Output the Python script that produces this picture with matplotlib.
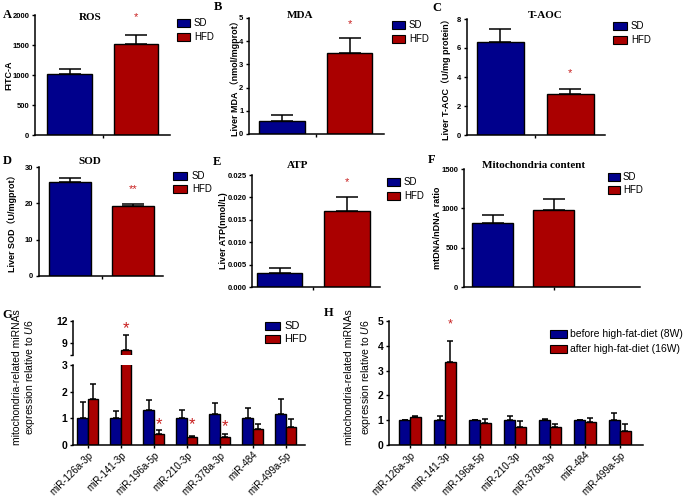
import numpy as np
import matplotlib.pyplot as plt

plt.rcParams['font.family'] = ['Liberation Sans', 'Noto Sans CJK SC']
plt.rcParams['mathtext.fontset'] = 'custom'
plt.rcParams['mathtext.it'] = 'Liberation Sans:italic'
plt.rcParams['mathtext.rm'] = 'Liberation Sans'

W, H = 685, 498
SD_C = '#00008c'
HFD_C = '#aa0000'
STAR_C = '#c81e1e'

groups = ['SD', 'HFD']
ros = [1010, 1520]
ros_err = [95, 140]
mda = [0.58, 3.5]
mda_err = [0.22, 0.62]
taoc = [6.4, 2.8]
taoc_err = [0.9, 0.4]
sod = [26.0, 19.4]
sod_err = [1.1, 0.4]
atp = [0.0031, 0.0169]
atp_err = [0.0011, 0.0033]
mito = [810, 975]
mito_err = [100, 140]

mirnas = ['miR-126a-3p', 'miR-141-3p', 'miR-196a-5p', 'miR-210-3p',
          'miR-378a-3p', 'miR-484', 'miR-499a-5p']
g_sd = [1.0, 1.0, 1.33, 1.0, 1.16, 1.0, 1.16]
g_sd_err = [0.6, 0.27, 0.36, 0.31, 0.43, 0.4, 0.57]
g_hfd = [1.71, 8.1, 0.4, 0.29, 0.31, 0.6, 0.66]
g_hfd_err = [0.58, 2.0, 0.16, 0.06, 0.1, 0.18, 0.33]

h_before = [1.0, 1.0, 1.0, 1.0, 1.0, 1.0, 1.0]
h_before_err = [0.02, 0.17, 0.02, 0.17, 0.03, 0.02, 0.3]
h_after = [1.12, 3.35, 0.87, 0.74, 0.72, 0.93, 0.57]
h_after_err = [0.05, 0.85, 0.18, 0.21, 0.13, 0.15, 0.28]
h_labels = ['before high-fat-diet (8W)', 'after high-fat-diet (16W)']

fig = plt.figure(figsize=(W / 100, H / 100), dpi=100)


def box(x0, x1, y0, y1):
    return [x0 / W, 1 - y1 / H, (x1 - x0) / W, (y1 - y0) / H]


def fx(x):
    return x / W


def fy(y):
    return 1 - y / H


def style(ax, bottom=True, ysize=5.5):
    for s in ['top', 'right']:
        ax.spines[s].set_visible(False)
    ax.spines['left'].set_linewidth(1.1)
    ax.spines['bottom'].set_linewidth(1.1)
    if not bottom:
        ax.spines['bottom'].set_visible(False)
    ax.tick_params(direction='out', length=2.5, width=1, pad=1.5)
    ax.tick_params(axis='y', labelsize=ysize)
    for lab in ax.get_yticklabels():
        lab.set_fontweight('bold')


def legend_px(px0, px1, tx, rows, labels, fs=7):
    for y, lab, c in zip(rows, labels, [SD_C, HFD_C]):
        fig.patches.append(plt.Rectangle((fx(px0), fy(y + 4)), (px1 - px0) / W, 8 / H,
                                         transform=fig.transFigure, facecolor=c,
                                         edgecolor='black', linewidth=0.8))
        fig.text(fx(tx), fy(y), lab, fontsize=fs, va='center', ha='left')


def two_bar(b, vals, errs, ylim, yticks, yfmt, xlim, tick_x, title, title_xy,
            ylabel, ylab_x, star, star_y, letter, letter_xy, leg):
    ax = fig.add_axes(box(*b))
    x = np.arange(2)
    ax.bar(x, vals, width=0.67, color=[SD_C, HFD_C], edgecolor='black', linewidth=1)
    ax.errorbar(x, vals, yerr=[[0, 0], errs], fmt='none', ecolor='black',
                elinewidth=1.1, capsize=8, capthick=1.1)
    ax.set_ylim(*ylim)
    ax.set_xlim(*xlim)
    ax.set_yticks(yticks)
    ax.set_yticklabels([yfmt.format(t) for t in yticks])
    ax.set_xticks([tick_x])
    ax.set_xticklabels([''])
    style(ax)
    fig.text(fx(title_xy[0]), fy(title_xy[1]), title, fontsize=8, fontweight='bold',
             family='Liberation Serif', ha='center', va='center')
    fig.text(fx(ylab_x), fy((b[2] + b[3]) / 2), ylabel, rotation=90, fontsize=6.5,
             fontweight='bold', ha='center', va='center')
    if star:
        ax.text(1, star_y, star, color=STAR_C, fontsize=8, ha='center', va='center')
    fig.text(fx(letter_xy[0]), fy(letter_xy[1]), letter, fontsize=9, fontweight='bold',
             family='Liberation Serif', ha='center', va='center')
    legend_px(leg[0], leg[1], leg[2], leg[3], groups)
    return ax


two_bar((35, 170, 15, 135), ros, ros_err, (0, 2000), [0, 500, 1000, 1500, 2000], '{:g}',
        (-0.52, 1.51), 0.5, 'ROS', (90, 18), 'FITC-A', 9, '*', 1960, 'A', (7, 15),
        (177, 190, 194, [23, 37]))
two_bar((249, 384, 18, 134), mda, mda_err, (0, 5), [0, 1, 2, 3, 4, 5], '{:g}',
        (-0.49, 1.51), 0.5, 'MDA', (300, 16), 'Liver MDA （nmol/mgprot）', 235, '*', 4.75,
        'B', (218, 7), (392, 405, 409, [25, 39]))
two_bar((467, 605, 19, 135), taoc, taoc_err, (0, 8), [0, 2, 4, 6, 8], '{:g}',
        (-0.48, 1.5), 0.5, 'T-AOC', (545, 15), 'Liver T-AOC（U/mg protein）', 446, '*', 4.3,
        'C', (437, 8), (613, 627, 631, [26, 40]))
two_bar((39, 163, 167, 276), sod, sod_err, (0, 30), [0, 10, 20, 30], '{:g}',
        (-0.5, 1.48), 0.5, 'SOD', (90, 161), 'Liver SOD（U/mgprot）', 12, '**', 24.0,
        'D', (7, 161), (173, 187, 192, [176, 189]))
two_bar((252, 380, 175, 287), atp, atp_err, (0, 0.025),
        [0, 0.005, 0.010, 0.015, 0.020, 0.025], '{:.3f}',
        (-0.41, 1.49), 0.5, 'ATP', (298, 166), 'Liver ATP(nmol/L)', 224, '*', 0.0235,
        'E', (217, 162), (387, 400, 404, [182, 196]))
two_bar((464, 640, 169, 287), mito, mito_err, (0, 1500), [0, 500, 1000, 1500], '{:g}',
        (-0.47, 2.42), 1.0, 'Mitochondria content', (534, 166), 'mtDNA/nDNA  ratio', 437,
        None, 0, 'F', (432, 160), (608, 620, 623, [177, 190]))


# panel G: segmented y axis
def mir_bars(ax, a, a_err, b_, b_err, w, cap):
    x = np.arange(len(mirnas))
    ax.bar(x - w / 2, a, width=w, color=SD_C, edgecolor='black', linewidth=1)
    ax.bar(x + w / 2, b_, width=w, color=HFD_C, edgecolor='black', linewidth=1)
    ax.errorbar(x - w / 2, a, yerr=[np.zeros(len(a)), a_err], fmt='none', ecolor='black',
                elinewidth=1.1, capsize=cap, capthick=1.1)
    ax.errorbar(x + w / 2, b_, yerr=[np.zeros(len(b_)), b_err], fmt='none', ecolor='black',
                elinewidth=1.1, capsize=cap, capthick=1.1)
    return x


def rotate_labels(ax):
    for lab in ax.get_xticklabels():
        lab.set_rotation(45)
        lab.set_ha('right')
        lab.set_rotation_mode('anchor')
        lab.set_fontsize(7)


gl = fig.add_axes(box(73, 305, 365, 445))
gu = fig.add_axes(box(73, 305, 321, 355))
for ax in (gl, gu):
    x = mir_bars(ax, g_sd, g_sd_err, g_hfd, g_hfd_err, 0.32, 2.5)
    ax.set_xlim(-0.45, 6.58)
gl.set_ylim(0, 3)
gl.set_yticks([0, 1, 2, 3])
gu.set_ylim(7.4, 12)
gu.set_yticks([7.4, 9, 12])
gu.set_yticklabels(['', '9', '12'])
gl.set_xticks(x)
gl.set_xticklabels(mirnas)
gu.set_xticks([])
style(gl, ysize=7.5)
style(gu, bottom=False, ysize=7.5)
gl.tick_params(axis='x', pad=1)
rotate_labels(gl)
for xi, yi in zip([2, 3, 4], [0.75, 0.75, 0.69]):
    gl.text(xi + 0.16, yi, '*', color=STAR_C, fontsize=12, ha='center', va='center')
gu.text(1 + 0.16, 11.0, '*', color=STAR_C, fontsize=12, ha='center', va='center')
fig.text(fx(17), fy(377), 'mitochondria-related miRNAs', rotation=90, fontsize=7.5,
         ha='center', va='center')
fig.text(fx(30), fy(377), r'expression relative to $\mathit{U6}$', rotation=90,
         fontsize=7.5, ha='center', va='center')
fig.text(fx(7), fy(315), 'G', fontsize=9, fontweight='bold', family='Liberation Serif',
         ha='center', va='center')
for y, lab, c in zip([326, 339], groups, [SD_C, HFD_C]):
    fig.patches.append(plt.Rectangle((fx(265), fy(y + 4)), 15 / W, 8 / H,
                                     transform=fig.transFigure, facecolor=c,
                                     edgecolor='black', linewidth=0.8))
    fig.text(fx(284), fy(y), lab, fontsize=8, va='center', ha='left')

# panel H
hx = fig.add_axes(box(389, 643, 321, 445))
x = mir_bars(hx, h_before, h_before_err, h_after, h_after_err, 0.31, 2.5)
hx.set_xlim(-0.6, 6.66)
hx.set_ylim(0, 5)
hx.set_yticks([0, 1, 2, 3, 4, 5])
hx.set_xticks(x)
hx.set_xticklabels(mirnas)
style(hx, ysize=7.5)
hx.tick_params(axis='x', pad=1)
rotate_labels(hx)
hx.text(1 + 0.155, 4.85, '*', color=STAR_C, fontsize=9, ha='center', va='center')
fig.text(fx(349), fy(377), 'mitochondria-related miRNAs', rotation=90, fontsize=7.5,
         ha='center', va='center')
fig.text(fx(366), fy(377), r'expression relative to $\mathit{U6}$', rotation=90,
         fontsize=7.5, ha='center', va='center')
fig.text(fx(329), fy(313), 'H', fontsize=9, fontweight='bold', family='Liberation Serif',
         ha='center', va='center')
for y, lab, c in zip([334, 349], h_labels, [SD_C, HFD_C]):
    fig.patches.append(plt.Rectangle((fx(550), fy(y + 4)), 17 / W, 8 / H,
                                     transform=fig.transFigure, facecolor=c,
                                     edgecolor='black', linewidth=0.8))
    fig.text(fx(570), fy(y), lab, fontsize=7.5, va='center', ha='left')

fig.savefig('out.png', dpi=100)
